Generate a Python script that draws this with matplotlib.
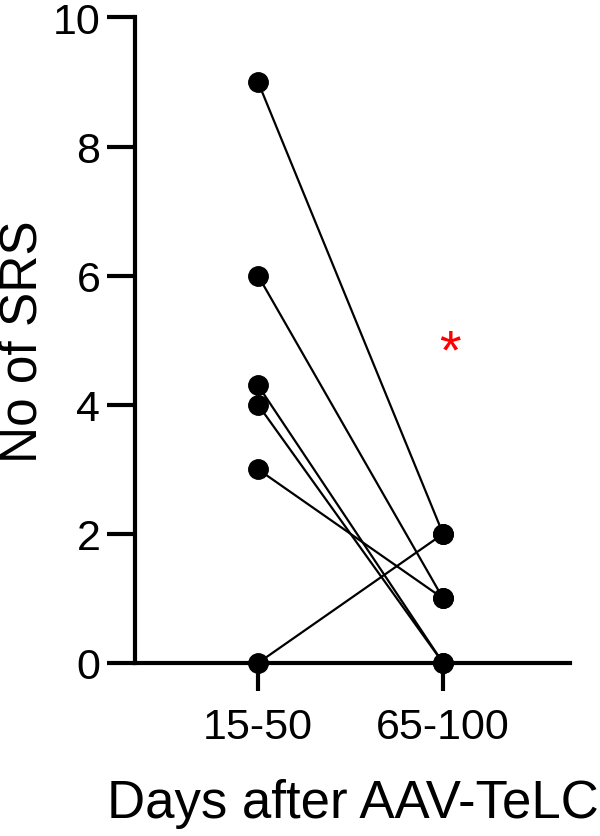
import matplotlib
matplotlib.use("Agg")
import matplotlib.pyplot as plt

# paired values per animal: SRS count at early vs late period
periods = ["15-50", "65-100"]
early = [9, 6, 4.3, 4, 3, 0]
late = [2, 1, 0, 0, 1, 2]

plt.rcParams["font.family"] = ["Liberation Sans", "DejaVu Sans"]

fig = plt.figure(figsize=(6, 8.37), dpi=100)
ax = fig.add_axes([0.225, 0.2067, 0.725, 0.7713])

for a, b in zip(early, late):
    ax.plot([0, 1], [a, b], color="black", lw=1.6, marker="o", ms=14,
            markerfacecolor="black", markeredgecolor="black", clip_on=False, zorder=3)

# significance mark
ax.text(1.04, 4.8, "*", color="red", fontsize=40, ha="center", va="center")

ax.set_xlim(-0.665, 1.686)
ax.set_ylim(0, 10)
ax.set_xticks([0, 1])
ax.set_xticklabels(periods)
ax.set_yticks([0, 2, 4, 6, 8, 10])

for s in ["top", "right"]:
    ax.spines[s].set_visible(False)
for s in ["left", "bottom"]:
    ax.spines[s].set_linewidth(3)

ax.tick_params(axis="both", length=20, width=3, labelsize=31, color="black")
ax.tick_params(axis="y", pad=5)
ax.tick_params(axis="x", pad=12)

ax.set_ylabel("No of SRS", fontsize=37)
ax.yaxis.set_label_coords(-0.2, 0.5)
ax.set_xlabel("Days after AAV-TeLC", fontsize=38, labelpad=22)

fig.savefig("out.png", dpi=100)
